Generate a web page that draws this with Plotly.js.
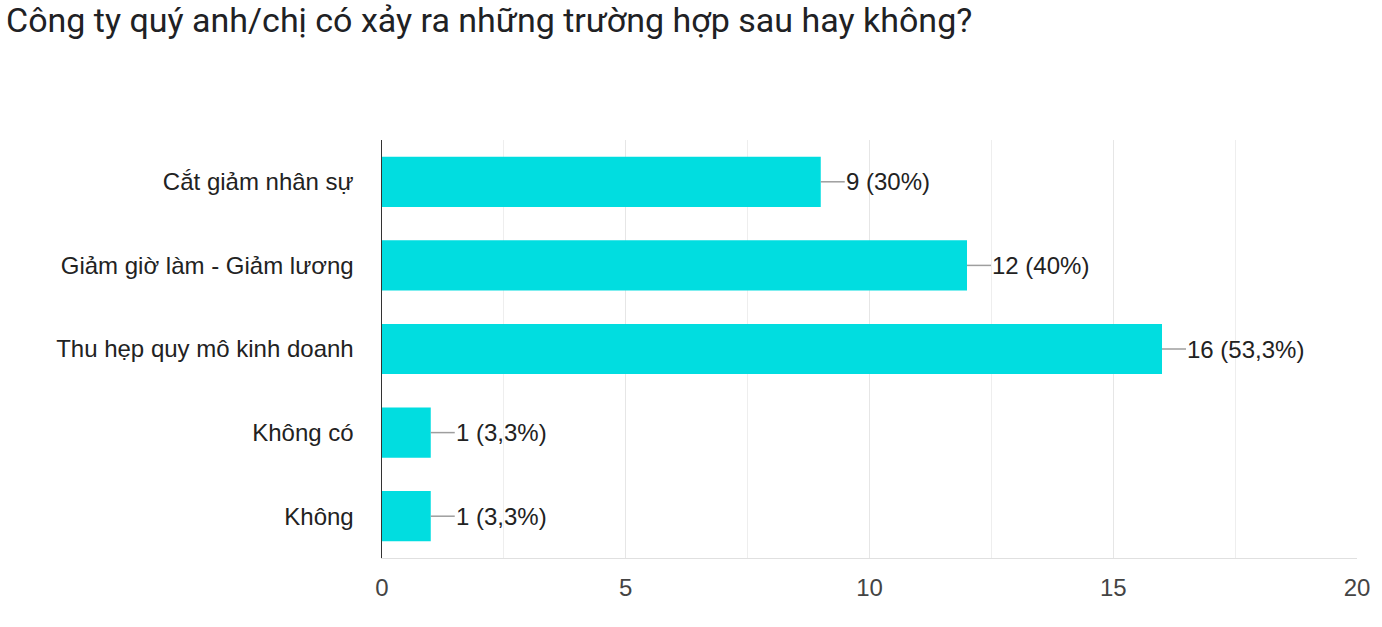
<!DOCTYPE html>
<html>
<head>
<meta charset="utf-8">
<script src="https://cdn.plot.ly/plotly-3.0.1.min.js"></script>
<style>html,body{margin:0;padding:0;background:#fff;}#chart{width:1382px;height:627px;}</style>
</head>
<body>
<div id="chart"></div>
<script>
const categories = ["Cắt giảm nhân sự", "Giảm giờ làm - Giảm lương", "Thu hẹp quy mô kinh doanh", "Không có", "Không"];
const counts = [9, 12, 16, 1, 1];
const percentLabels = ["30%", "40%", "53,3%", "3,3%", "3,3%"];
const xTickVals = [0, 5, 10, 15, 20];
const xTickText = ["0", "5", "10", "15", "20"];

const trace = {
  type: "bar",
  orientation: "h",
  y: categories,
  x: counts,
  marker: {color: "#01dde0"},
  width: 0.6,
  hoverinfo: "x+y"
};

const shapes = counts.map((v, i) => ({
  type: "line",
  xref: "x", yref: "y",
  xsizemode: "pixel",
  xanchor: v,
  x0: 0, x1: 24,
  y0: categories[i], y1: categories[i],
  line: {color: "#9e9e9e", width: 1.5}
}));

const annotations = counts.map((v, i) => ({
  x: v, y: categories[i],
  xref: "x", yref: "y",
  xanchor: "left", yanchor: "middle",
  xshift: 23,
  showarrow: false,
  text: v + " (" + percentLabels[i] + ")",
  font: {family: "Liberation Sans, Arial, sans-serif", size: 24, color: "#222"}
}));

annotations.push({
  xref: "paper", yref: "paper",
  x: -382/975, y: 1 + (140-20)/418,
  xanchor: "left", yanchor: "middle",
  xshift: 4,
  showarrow: false,
  text: "Công ty quý anh/chị có xảy ra những trường hợp sau hay không?",
  font: {family: "Roboto, sans-serif", size: 34, color: "#202124"}
});

const layout = {
  width: 1382, height: 627,
  margin: {l: 382, r: 25, t: 140, b: 69},
  paper_bgcolor: "#fff",
  plot_bgcolor: "#fff",
  showlegend: false,
  bargap: 0.4,
  xaxis: {
    range: [0, 20],
    tickvals: xTickVals,
    ticktext: xTickText,
    showgrid: true,
    gridcolor: "#e6e6e6",
    gridwidth: 1,
    minor: {dtick: 2.5, showgrid: true, gridcolor: "#eeeeee", gridwidth: 1},
    showline: true,
    linecolor: "#e0e0e0",
    linewidth: 1,
    zeroline: false,
    ticks: "",
    ticklabelstandoff: 8,
    tickfont: {family: "Liberation Sans, Arial, sans-serif", size: 24, color: "#444"},
    mirror: false
  },
  yaxis: {
    autorange: "reversed",
    showgrid: false,
    showline: true,
    linecolor: "#333",
    linewidth: 1.5,
    ticks: "",
    ticklabelstandoff: 22,
    tickfont: {family: "Liberation Sans, Arial, sans-serif", size: 24, color: "#222"}
  },
  shapes: shapes,
  annotations: annotations
};

Plotly.newPlot("chart", [trace], layout, {displayModeBar: false, staticPlot: true});
</script>
</body>
</html>
